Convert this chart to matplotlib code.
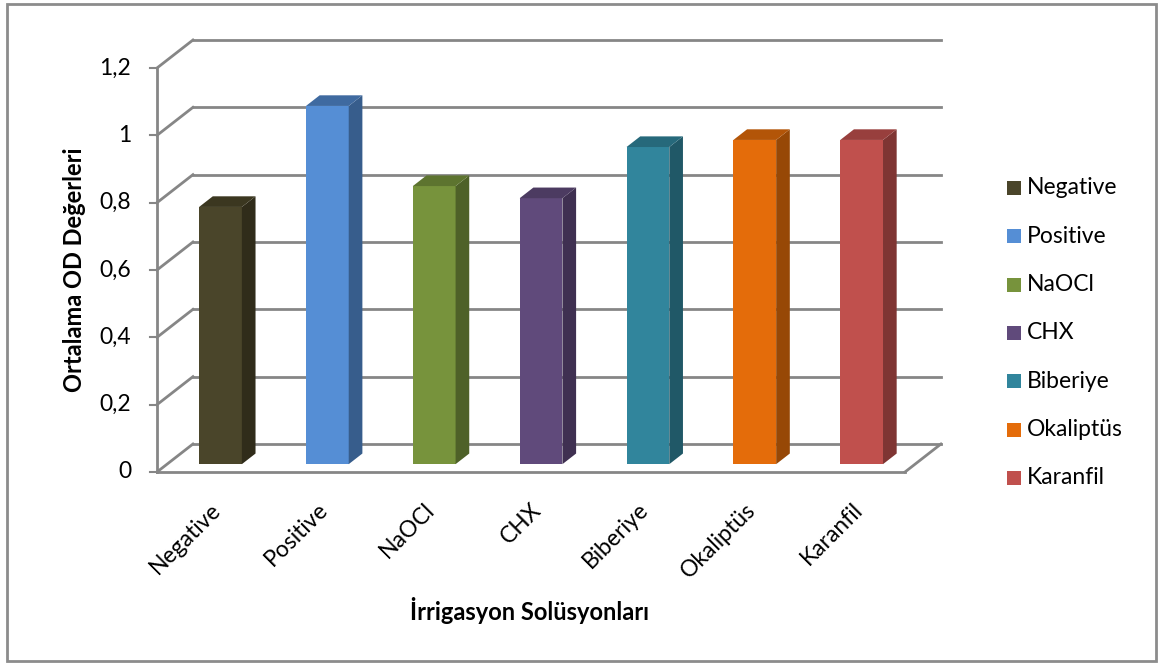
import numpy as np
import matplotlib.pyplot as plt
from matplotlib.patches import Polygon, Rectangle

plt.rcParams['font.family'] = ['Lato', 'DejaVu Sans']

categories = ['Negative', 'Positive', 'NaOCl', 'CHX', 'Biberiye', 'Okaliptüs', 'Karanfil']
values = [0.764, 1.064, 0.826, 0.79, 0.942, 0.963, 0.963]
colors = ['#4a452a', '#558ed5', '#77933c', '#604a7b', '#31859c', '#e46c0a', '#c0504d']
sides = ['#302c1a', '#375d8c', '#4e6128', '#3f3051', '#205867', '#974806', '#7f3533']
tops = ['#3b3720', '#3f6aa0', '#5d742f', '#4c3b61', '#26697b', '#b35508', '#983f3d']
yticks = [0, 0.2, 0.4, 0.6, 0.8, 1.0, 1.2]
ytick_labels = ['0', '0,2', '0,4', '0,6', '0,8', '1', '1,2']

W, H = 1166, 664
FS = 16.5
fig = plt.figure(figsize=(W / 100, H / 100), dpi=100)
fig.patch.set_facecolor('white')

# front floor runs 157..905 px, value 0..1.2 spans 472..68 px
ax = fig.add_axes([157 / W, (H - 472) / H, 748 / W, 404 / H])
ax.set_xlim(0, 7)
ax.set_ylim(0, 1.2)
ax.axis('off')

# oblique depth of the floor, in data units
DX = 36 / 107
DY = 28 / 336.7
grid_c = '#868686'

def depth(x, y, f):
    return x + DX * f, y + DY * f

# walls: diagonal from the front axis to the back, then back gridline
for v in yticks:
    x0, y0 = 0, v
    x1, y1 = depth(0, v, 1)
    ax.plot([x0, x1], [y0, y1], color=grid_c, lw=2, clip_on=False, zorder=1)
    ax.plot([x1, 7 + DX], [y1, y1], color=grid_c, lw=2, clip_on=False, zorder=1)
    ax.plot([-0.065, 0], [v, v], color=grid_c, lw=1.5, clip_on=False, zorder=1)

# floor
ax.plot([0, 7], [0, 0], color=grid_c, lw=2, clip_on=False, zorder=1)
ax.plot([7, 7 + DX], [0, DY], color=grid_c, lw=2, clip_on=False, zorder=1)
ax.plot([0, 0], [0, 1.2], color=grid_c, lw=2, clip_on=False, zorder=1)

# 3D-looking bars
bw = 0.40
bf = 0.28   # depth where the front face sits
bd = 0.38   # depth of the bar
for i, (v, c, sc, tc) in enumerate(zip(values, colors, sides, tops)):
    xl, yb = depth(i + 0.5 - bw / 2, 0, bf)
    xr = xl + bw
    yt = yb + v
    ddx, ddy = DX * bd, DY * bd
    ax.add_patch(Rectangle((xl, yb), bw, v, facecolor=c, edgecolor='none', zorder=3, clip_on=False))
    ax.add_patch(Polygon([(xr, yb), (xr + ddx, yb + ddy), (xr + ddx, yt + ddy), (xr, yt)],
                         facecolor=sc, edgecolor='none', zorder=3, clip_on=False))
    ax.add_patch(Polygon([(xl, yt), (xr, yt), (xr + ddx, yt + ddy), (xl + ddx, yt + ddy)],
                         facecolor=tc, edgecolor='none', zorder=3, clip_on=False))

# y tick labels
for v, lab in zip(yticks, ytick_labels):
    ax.text(-0.24, v, lab, ha='right', va='center', fontsize=FS, color='black')

# category labels
for i, lab in enumerate(categories):
    ax.text(i + 0.5, -0.08, lab, ha='right', va='top', rotation=45,
            rotation_mode='anchor', fontsize=FS, color='black')

fig.text(75 / W, 1 - 270 / H, 'Ortalama OD Değerleri', rotation=90, ha='center', va='center',
         fontsize=17, fontweight='bold')
fig.text(530 / W, 1 - 610 / H, 'İrrigasyon Solüsyonları', ha='center', va='center',
         fontsize=17, fontweight='bold')

# legend
for k, (lab, c) in enumerate(zip(categories, colors)):
    yc = 188 + k * 48.3
    fig.patches.append(Rectangle((1007 / W, 1 - (yc + 7) / H), 14 / W, 14 / H, facecolor=c,
                                 edgecolor='none', transform=fig.transFigure))
    fig.text(1027 / W, 1 - yc / H, lab, ha='left', va='center', fontsize=FS)

# chart border
fig.patches.append(Rectangle((7 / W, 1 - 661 / H), 1149 / W, 657 / H, facecolor='none',
                             edgecolor='#8c8c8c', lw=2, transform=fig.transFigure))

fig.savefig('out.png', dpi=100, facecolor='white')
